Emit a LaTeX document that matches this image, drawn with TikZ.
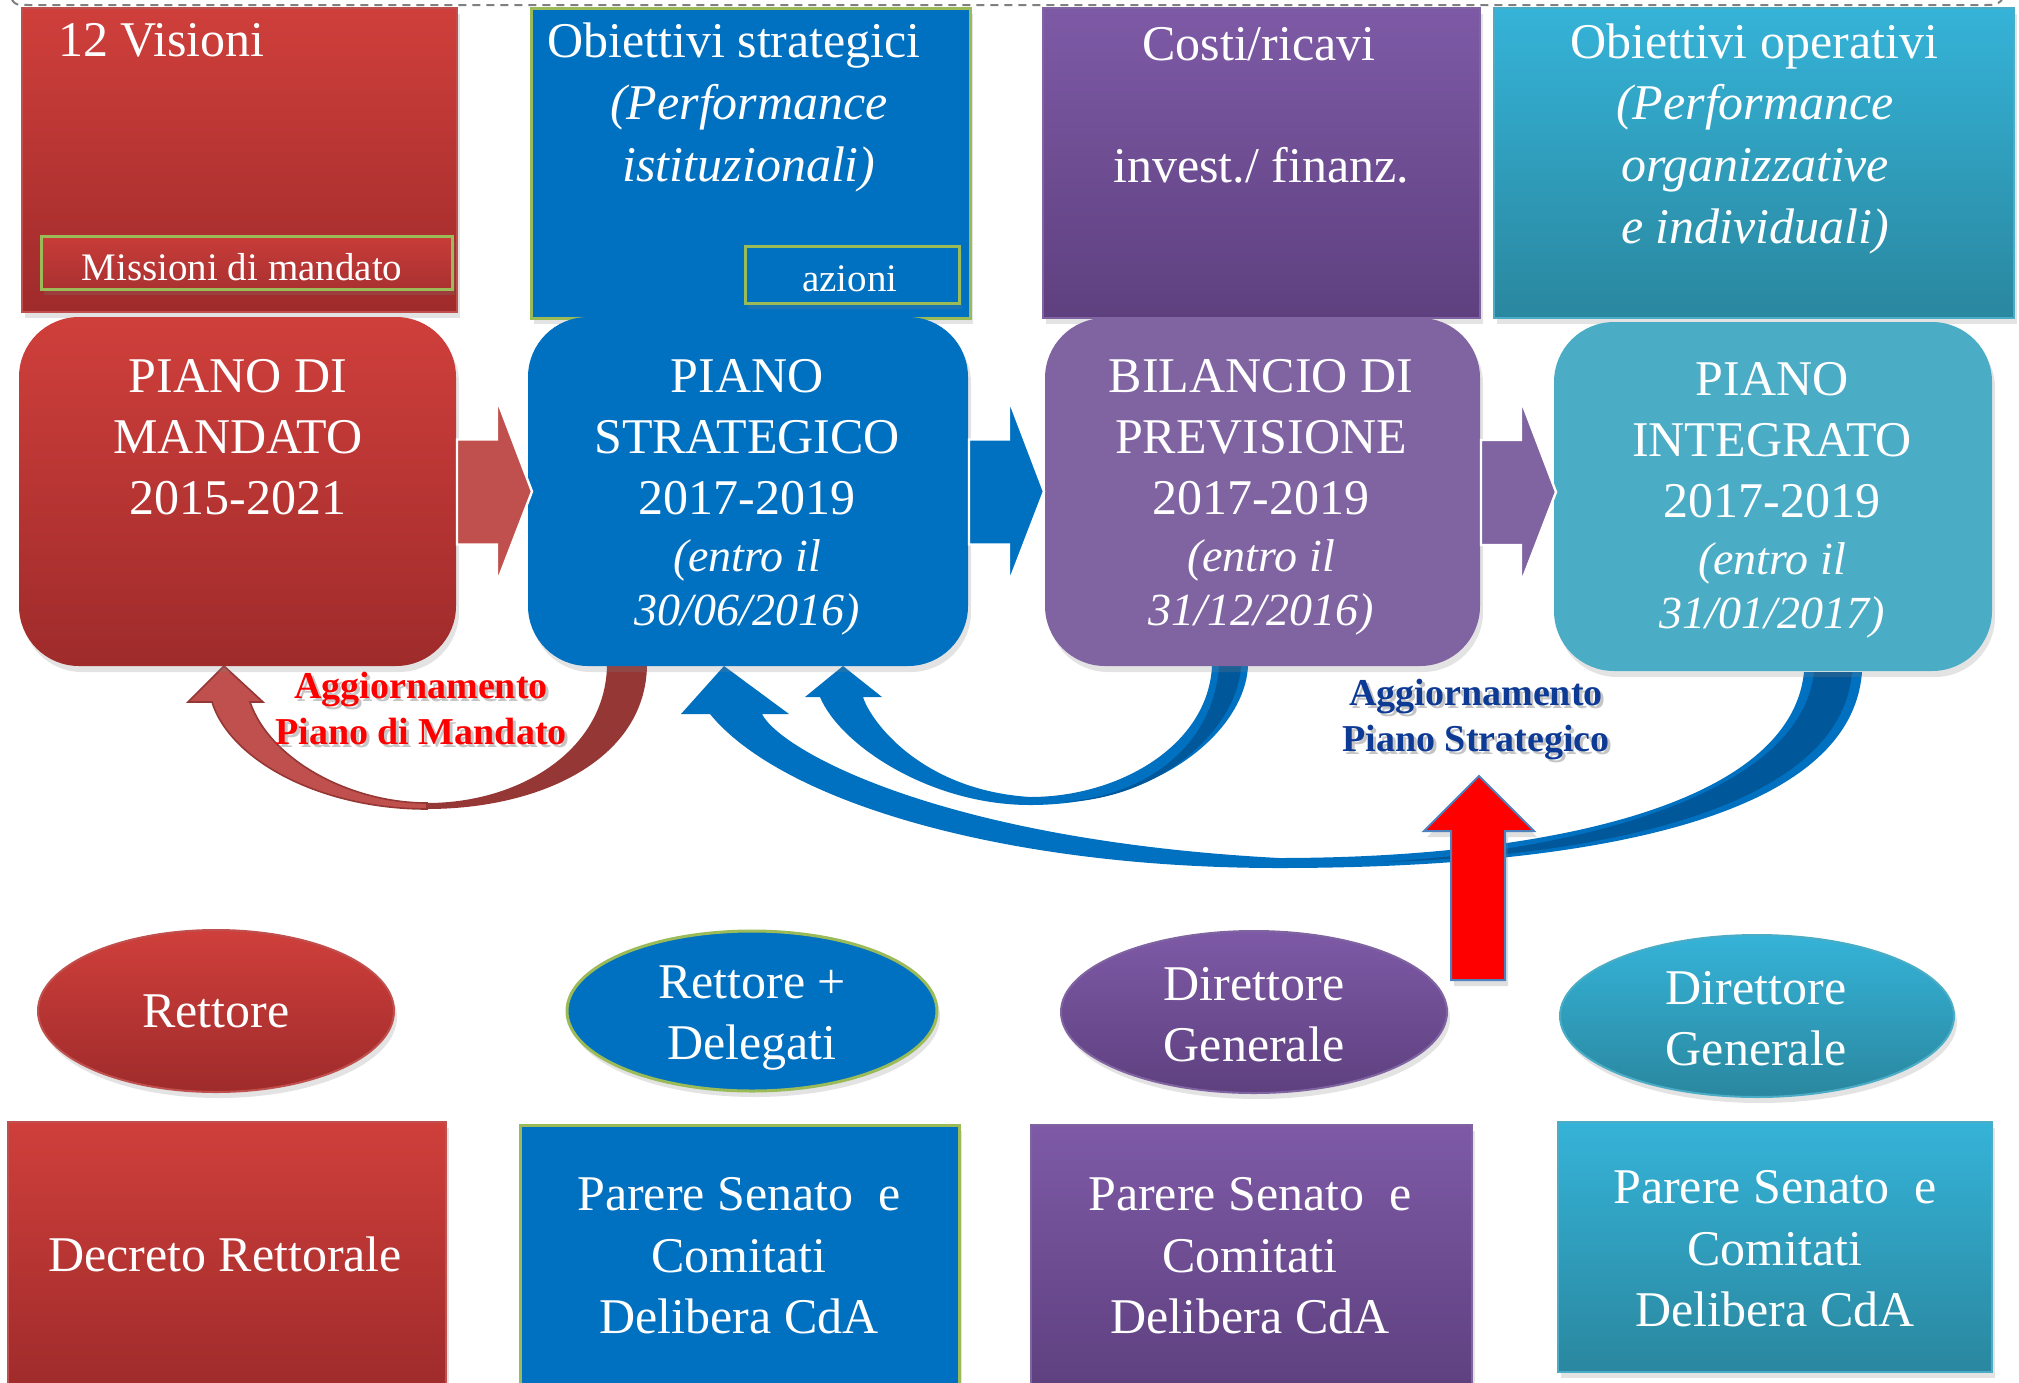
\documentclass[tikz,border=0pt]{standalone}
\usepackage{fontspec}
\setmainfont{Liberation Serif}
\usetikzlibrary{shapes.geometric,shadows}
\definecolor{redT}{HTML}{CF3F3B}
\definecolor{redB}{HTML}{9F2B2B}
\definecolor{redM1}{HTML}{C83C39}
\definecolor{redM2}{HTML}{AA3131}
\definecolor{blu}{HTML}{0070C0}
\definecolor{bluD}{HTML}{00589A}
\definecolor{purT}{HTML}{7E5AA6}
\definecolor{purB}{HTML}{5E407F}
\definecolor{purF}{HTML}{8064A2}
\definecolor{teaT}{HTML}{35B3D8}
\definecolor{teaB}{HTML}{2A879F}
\definecolor{teaF}{HTML}{4BACC6}
\definecolor{grn}{HTML}{9BBB59}
\definecolor{arRed}{HTML}{C0504D}
\definecolor{arRedD}{HTML}{953735}
\definecolor{aggBlue}{HTML}{0D3A94}
\definecolor{outl}{HTML}{4F81BD}
\begin{document}
\begin{tikzpicture}[x=0.5pt,y=-0.5pt,
  every node/.style={inner sep=0pt, outer sep=0pt},
  box/.style={rectangle, line width=1pt},
  rbox/.style={rectangle, rounded corners=30pt},
  shd/.style={drop shadow={opacity=0.22, shadow xshift=1.5pt, shadow yshift=-3pt}},
  redg/.style={top color=redT, bottom color=redB, draw=arRed},
  purg/.style={top color=purT, bottom color=purB, draw=purF},
  teag/.style={top color=teaT, bottom color=teaB, draw=teaF},
  el/.style={ellipse, line width=1pt},
  wt/.style={text=white, align=center, font=\fontsize{25}{30.5}\selectfont},
  wti/.style={text=white, align=center, font=\fontsize{25}{31}\selectfont\itshape},
  wi/.style={text=white, align=center, font=\fontsize{23}{27}\selectfont\itshape},
  ws/.style={text=white, font=\fontsize{19.5}{23}\selectfont},
  agg/.style={align=center, font=\fontsize{19}{23}\selectfont\bfseries}
]
\useasboundingbox (0,0) rectangle (2019,1382);

% dashed frame edge at the top
\draw[gray, line width=1pt, dash pattern=on 4pt off 3pt] (12,0) .. controls (16,5) .. (30,5) -- (1985,5) .. controls (1996,5) .. (2002,0);

% top boxes
\node[box, redg, shd, minimum width=217.5pt, minimum height=152pt] (t1) at (239.5,160) {};
\node[box, fill=blu, draw=grn, line width=1.5pt, shd, minimum width=219.5pt, minimum height=155pt] (t2) at (750.5,163) {};
\node[box, purg, shd, minimum width=218.5pt, minimum height=155pt] (t3) at (1261.5,163) {};
\node[box, teag, shd, minimum width=260pt, minimum height=155pt] (t4) at (1754,163) {};

\node[box, top color=redM1, bottom color=redM2, draw=grn, line width=1.5pt, shd, minimum width=205.5pt, minimum height=26.5pt] (mis) at (246.5,262.5) {};
\node[box, fill=blu, draw=grn, line width=1.5pt, shd, minimum width=107pt, minimum height=28.5pt] (azi) at (852,274.5) {};

\node[wt, anchor=west] (t1a) at (58,40) {12 Visioni};
\node[ws] (misT) at (242,267) {Missioni di mandato};
\node[wt] (t2a) at (734,46) {Obiettivi strategici};
\node[wti] (t2b) at (749,138) {(Performance\\istituzionali)};
\node[ws] (aziT) at (850,279) {azioni};
\node[wt] (t3a) at (1259,44) {Costi/ricavi};
\node[wt] (t3b) at (1261,165) {invest./ finanz.};
\node[wt] (t4a) at (1754,46) {Obiettivi operativi};
\node[wti] (t4b) at (1755,169) {(Performance\\organizzative\\e individuali)};

% curved arrows (behind the boxes)
% red: from piano strategico back to piano di mandato
\fill[arRedD] (647,666) .. controls (645,760) and (540,809) .. (427,809) .. controls (320,809) and (230,760) .. (212,702) -- (188,702) -- (224,666) -- (263,702) -- (250,702) .. controls (270,760) and (350,803) .. (427,803) .. controls (520,803) and (605,750) .. (607,666) -- cycle;
\filldraw[fill=arRed, draw=arRedD, line width=0.8pt] (427,809) .. controls (320,809) and (230,760) .. (212,702) -- (188,702) -- (224,666) -- (263,702) -- (250,702) .. controls (270,760) and (350,803) .. (427,803) -- cycle;

% blue small: from bilancio back to piano strategico
\fill[blu] (1248,666) .. controls (1245,730) and (1160,805) .. (1030,805) .. controls (930,805) and (840,745) .. (820,697) -- (805,697) -- (843,666) -- (882,697) -- (863,697) .. controls (870,720) and (920,790) .. (1030,797) .. controls (1120,797) and (1208,745) .. (1212,666) -- cycle;
\fill[bluD] (1241,666) .. controls (1238,728) and (1160,801) .. (1060,802) .. controls (1150,797) and (1214,742) .. (1219,666) -- cycle;

% blue large: from piano integrato back to piano strategico
\fill[blu] (1862,672) .. controls (1850,830) and (1550,868) .. (1279,868) .. controls (1000,868) and (780,800) .. (710,714) -- (681,714) -- (724,666) -- (789,714) -- (762,714) .. controls (780,750) and (940,840) .. (1279,858) .. controls (1530,858) and (1790,810) .. (1804,672) -- cycle;
\fill[bluD] (1852,672) .. controls (1840,820) and (1560,858) .. (1380,862) .. controls (1560,852) and (1800,800) .. (1814,672) -- cycle;

% rounded main boxes
\node[rbox, top color=redT, bottom color=redB, shd, minimum width=218.5pt, minimum height=174.5pt] (r1) at (237.5,491.5) {};
\node[rbox, fill=blu, shd, minimum width=220pt, minimum height=174.5pt] (r2) at (748,491.5) {};
\node[rbox, fill=purF, shd, minimum width=217.5pt, minimum height=174pt] (r3) at (1262.5,492) {};
\node[rbox, fill=teaF, shd, minimum width=219pt, minimum height=174.5pt] (r4) at (1773,496.5) {};

% block arrows between main boxes
\foreach \n/\c in {r1/arRed, r2/blu, r3/purF} {
  \begin{scope}[shift={(\n.east)}]
    \filldraw[fill=\c, draw=white, line width=1.2pt] (1,-52) -- (41,-52) -- (41,-92) -- (76,0) -- (41,91) -- (41,53) -- (1,53) -- cycle;
  \end{scope}
}

\node[wt] (r1a) at (238,437) {PIANO DI\\MANDATO\\2015-2021};
\node[wt] (r2a) at (747,437) {PIANO\\STRATEGICO\\2017-2019};
\node[wi] (r2b) at (747,587) {(entro il\\30/06/2016)};
\node[wt] (r3a) at (1261,437) {BILANCIO DI\\PREVISIONE\\2017-2019};
\node[wi] (r3b) at (1261,587) {(entro il\\31/12/2016)};
\node[wt] (r4a) at (1772,440.5) {PIANO\\INTEGRATO\\2017-2019};
\node[wi] (r4b) at (1772,590) {(entro il\\31/01/2017)};

% labels
\node[agg, text=black!45, opacity=0.5] (lab1s) at (424,711) {Aggiornamento\\Piano di Mandato};
\node[agg, text=red] (lab1) at (421,708) {Aggiornamento\\Piano di Mandato};
\node[agg, text=black!45, opacity=0.5] (lab2s) at (1479,722) {Aggiornamento\\Piano Strategico};
\node[agg, text=aggBlue] (lab2) at (1476,719) {Aggiornamento\\Piano Strategico};

% ellipses
\node[el, redg, shd, minimum width=178pt, minimum height=81pt, wt] (e1) at (216,1011) {Rettore};
\node[el, fill=blu, draw=grn, line width=1.5pt, shd, minimum width=185pt, minimum height=80pt] (e2) at (752,1011) {};
\node[wt] (e2t) at (752,1018) {Rettore +\\Delegati};
\node[el, purg, shd, minimum width=193pt, minimum height=81pt] (e3) at (1254,1012) {};
\node[wt] (e3t) at (1254,1015) {Direttore\\Generale};
\node[el, teag, shd, minimum width=197pt, minimum height=81pt] (e4) at (1757,1016) {};
\node[wt] (e4t) at (1756,1019) {Direttore\\Generale};

% bottom boxes
\node[box, redg, shd, minimum width=219pt, minimum height=134pt] (b1) at (227,1256) {};
\node[box, fill=blu, draw=grn, line width=1.5pt, shd, minimum width=219.5pt, minimum height=132.5pt] (b2) at (739.5,1257.5) {};
\node[box, purg, shd, minimum width=220.5pt, minimum height=132.5pt] (b3) at (1251.5,1257.5) {};
\node[box, teag, shd, minimum width=217pt, minimum height=125pt] (b4) at (1775,1247) {};

\node[wt] (b1a) at (225,1254) {Decreto Rettorale};
\node[wt, font=\fontsize{25}{30.75}\selectfont] (b2a) at (739,1256) {Parere Senato\ \ e\\Comitati\\Delibera CdA};
\node[wt, font=\fontsize{25}{30.75}\selectfont] (b3a) at (1250,1256) {Parere Senato\ \ e\\Comitati\\Delibera CdA};
\node[wt, font=\fontsize{25}{30.75}\selectfont] (b4a) at (1775,1249) {Parere Senato\ \ e\\Comitati\\Delibera CdA};

% red upward arrow
\coordinate (va) at (1478,980);
\begin{scope}[shift={(va)}]
  \filldraw[fill=red, draw=outl, line width=1pt, drop shadow={opacity=0.25, shadow xshift=1.5pt, shadow yshift=-3pt}] (-27,0) -- (-27,-149) -- (-54,-149) -- (1,-204) -- (56,-149) -- (27,-149) -- (27,0) -- cycle;
\end{scope}
\end{tikzpicture}
\end{document}
